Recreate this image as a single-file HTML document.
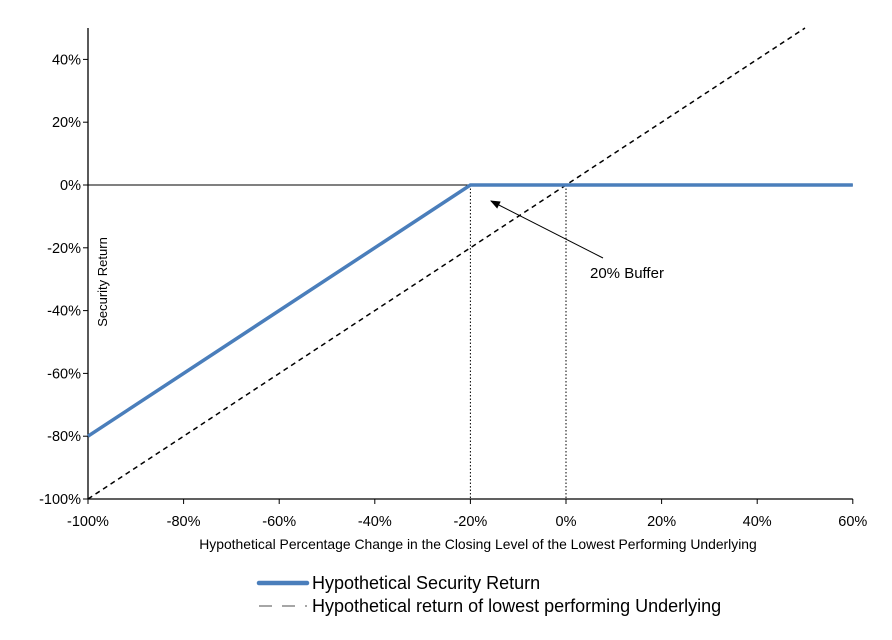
<!DOCTYPE html>
<html><head><meta charset="utf-8"><style>
body{margin:0;background:#fff;font-family:"Liberation Sans",Arial,sans-serif}
svg{display:block}
</style></head><body>
<svg width="892" height="640" viewBox="0 0 892 640">
<g id="g"></g>
</svg>
<script>
const xTicks=[-100,-80,-60,-40,-20,0,20,40,60];
const yTicks=[-100,-80,-60,-40,-20,0,20,40];
const secX=[-100,-20,0,60];
const secY=[-80,0,0,0];
const undX=[-100,50];
const undY=[-100,50];
const sx=v=>566+(v)*4.78;
const sy=v=>185-(v)*3.14;
const NS="http://www.w3.org/2000/svg";
const g=document.getElementById('g');
function mk(t,a,p){const e=document.createElementNS(NS,t);for(const k in a)e.setAttribute(k,a[k]);(p||g).appendChild(e);return e;}
let e=mk('line',{x1:sx(-100),y1:sy(-100),x2:sx(60),y2:sy(-100),stroke:'#000','stroke-width':1.3});


e=mk('line',{x1:sx(-100),y1:sy(-100),x2:sx(-100),y2:28,stroke:'#000','stroke-width':1.3});


e=mk('line',{x1:sx(-100),y1:sy(0),x2:sx(60),y2:sy(0),stroke:'#000','stroke-width':1});


xTicks.forEach(v=>{
 mk('line',{x1:sx(v),y1:sy(-100),x2:sx(v),y2:sy(-100)+5,stroke:'#000'});
 const t=mk('text',{x:sx(v),y:sy(-100)+27,'text-anchor':'middle','font-size':14.5});
 t.textContent=v+'%';
 
 
});
yTicks.forEach(v=>{
 mk('line',{x1:sx(-100)-5,y1:sy(v),x2:sx(-100),y2:sy(v),stroke:'#000'});
 const t=mk('text',{x:sx(-100)-7,y:sy(v)+5,'text-anchor':'end','font-size':14.5});
 t.textContent=v+'%';
 
 
});
[-20,0].forEach(v=>{
 const l=mk('line',{x1:sx(v),y1:sy(0),x2:sx(v),y2:sy(-100),stroke:'#000','stroke-width':1,'stroke-dasharray':'1.5,2'});
 
 
});
e=mk('polyline',{points:undX.map((x,i)=>sx(x)+','+sy(undY[i])).join(' '),fill:'none',stroke:'#000','stroke-width':1.5,'stroke-dasharray':'5,4'});


e=mk('polyline',{points:secX.map((x,i)=>sx(x)+','+sy(secY[i])).join(' '),fill:'none',stroke:'#4a7ebb','stroke-width':3.5});


mk('defs',{}).innerHTML='<marker id="ah" markerWidth="10" markerHeight="8" refX="9" refY="4" orient="auto"><path d="M0,0 L10,4 L0,8 z" fill="#000"/></marker>';
e=mk('line',{x1:603,y1:258,x2:491,y2:201,stroke:'#000','stroke-width':1,'marker-end':'url(#ah)'});


e=mk('text',{x:590,y:278,'font-size':15});e.textContent='20% Buffer';


e=mk('text',{x:0,y:0,'font-size':13,'text-anchor':'middle',transform:'translate(107,282) rotate(-90)'});e.textContent='Security Return';


e=mk('text',{x:478,y:549,'font-size':13.9,'text-anchor':'middle'});e.textContent='Hypothetical Percentage Change in the Closing Level of the Lowest Performing Underlying';


e=mk('line',{x1:259,y1:583,x2:307,y2:583,stroke:'#4a7ebb','stroke-width':4.5,'stroke-linecap':'round'});


e=mk('text',{x:312,y:589,'font-size':18});e.textContent='Hypothetical Security Return';


e=mk('line',{x1:259,y1:606,x2:307,y2:606,stroke:'#888','stroke-width':1.5,'stroke-dasharray':'13,10'});


e=mk('text',{x:312,y:612,'font-size':18});e.textContent='Hypothetical return of lowest performing Underlying';


</script>
</body></html>
